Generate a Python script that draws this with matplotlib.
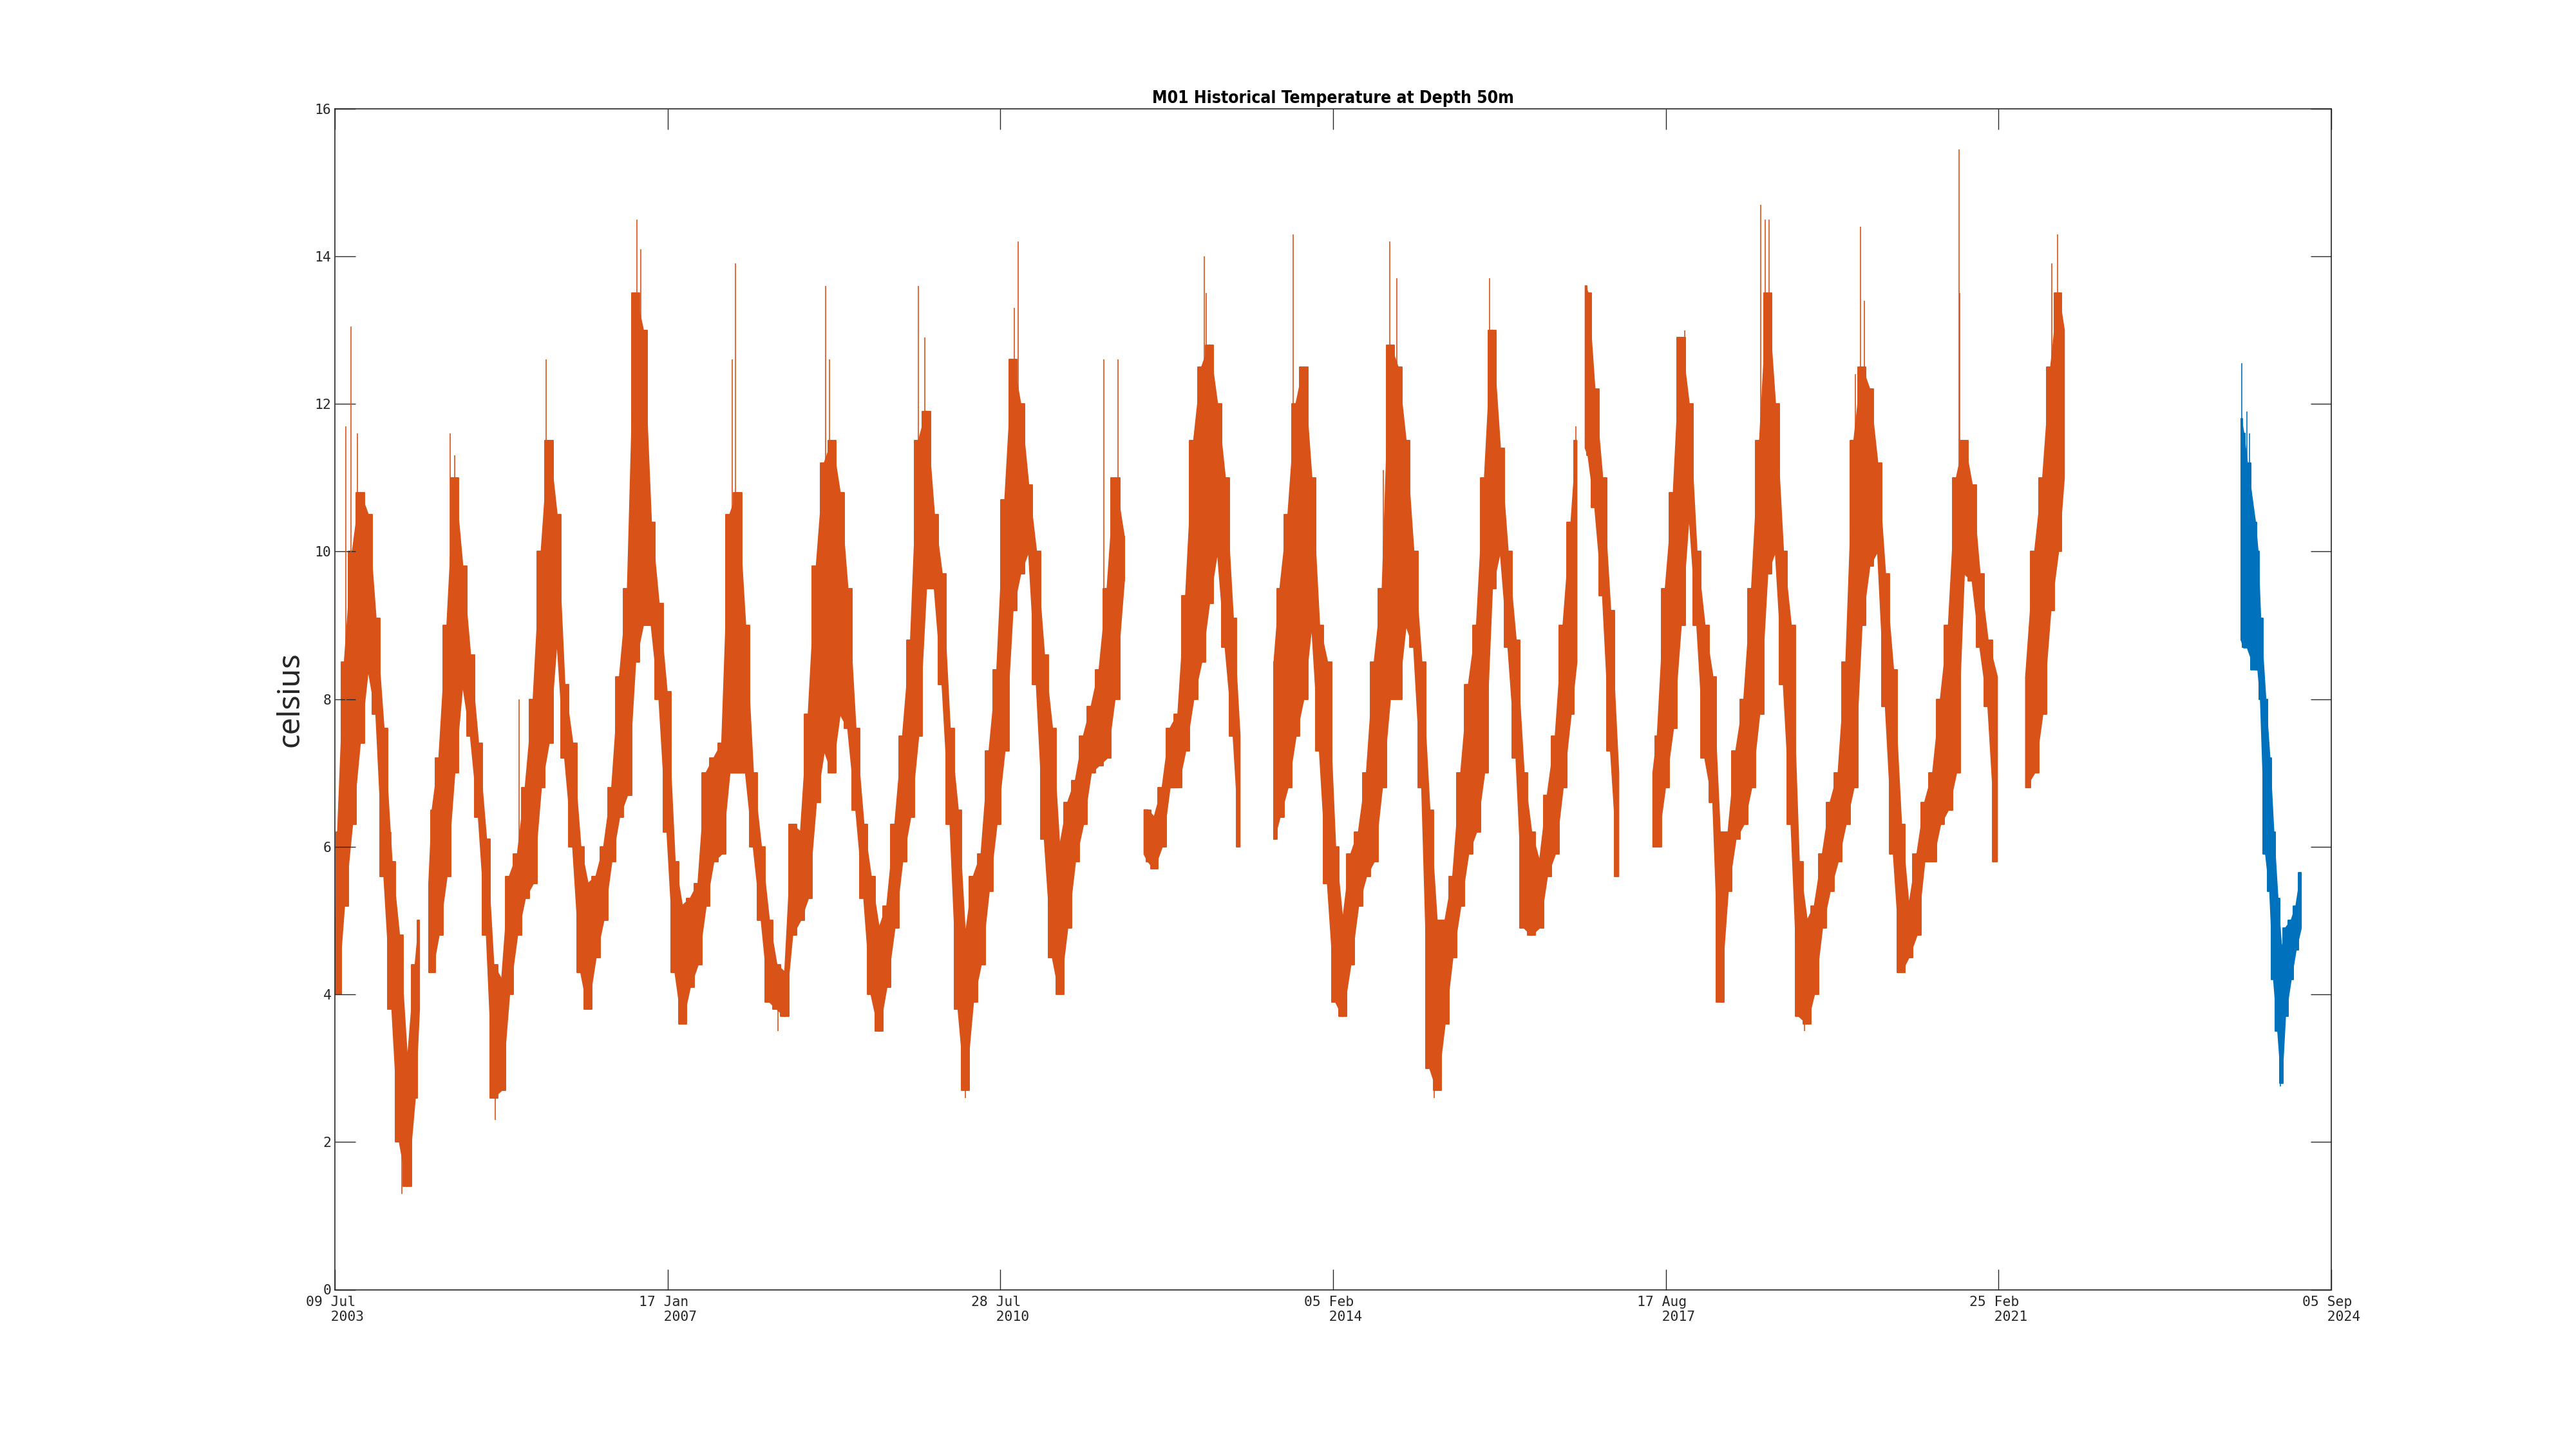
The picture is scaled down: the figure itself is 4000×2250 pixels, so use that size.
"""# Temperatura historica M01 a 50m"""
import matplotlib
matplotlib.use('Agg')
import matplotlib.pyplot as plt
import matplotlib.dates as mdates
import numpy as np
import pandas as pd

"""#### Dados lidos do grafico (envelope mensal: minimo e maximo)"""
nan = np.nan

datas_laranja = [
    '2003-07-09', '2003-07-20', '2003-08-15', '2003-09-15', '2003-10-15', '2003-11-15', '2003-12-15',
    '2004-01-15', '2004-02-15', '2004-03-15', '2004-04-15', '2004-05-15', '2004-05-31', '2004-06-15',
    '2004-07-07', '2004-07-20', '2004-08-15', '2004-09-15', '2004-10-15', '2004-11-15', '2004-12-15',
    '2005-01-15', '2005-02-15', '2005-03-15', '2005-04-15', '2005-05-15', '2005-06-15', '2005-07-15',
    '2005-08-15', '2005-09-15', '2005-10-15', '2005-11-15', '2005-12-15',
    '2006-01-15', '2006-02-15', '2006-03-15', '2006-04-15', '2006-05-15', '2006-06-15', '2006-07-15',
    '2006-08-15', '2006-09-15', '2006-10-15', '2006-11-15', '2006-12-15',
    '2007-01-15', '2007-02-15', '2007-03-15', '2007-04-15', '2007-05-15', '2007-06-15', '2007-07-15',
    '2007-08-15', '2007-09-15', '2007-10-15', '2007-11-15', '2007-12-15',
    '2008-01-15', '2008-02-15', '2008-03-15', '2008-04-15', '2008-05-15', '2008-06-15', '2008-07-15',
    '2008-08-15', '2008-09-15', '2008-10-15', '2008-11-15', '2008-12-15',
    '2009-01-15', '2009-02-15', '2009-03-15', '2009-04-15', '2009-05-15', '2009-06-15', '2009-07-15',
    '2009-08-15', '2009-09-15', '2009-10-15', '2009-11-15', '2009-12-15',
    '2010-01-15', '2010-02-15', '2010-03-15', '2010-04-15', '2010-05-15', '2010-06-15', '2010-07-15',
    '2010-08-15', '2010-09-15', '2010-10-15', '2010-11-15', '2010-12-15',
    '2011-01-15', '2011-02-15', '2011-03-15', '2011-04-15', '2011-05-15', '2011-06-15', '2011-07-15',
    '2011-08-15', '2011-09-15', '2011-10-15', '2011-11-20', '2011-12-25',
    '2012-02-05', '2012-02-20', '2012-03-15', '2012-04-15', '2012-05-15', '2012-06-15', '2012-07-15',
    '2012-08-15', '2012-09-15', '2012-10-15', '2012-11-15', '2012-12-15',
    '2013-01-15', '2013-02-10', '2013-04-15',
    '2013-06-22', '2013-07-15', '2013-08-15', '2013-09-15', '2013-10-15', '2013-11-15', '2013-12-15',
    '2014-01-15', '2014-02-15', '2014-03-15', '2014-04-15', '2014-05-15', '2014-06-15', '2014-07-15',
    '2014-08-15', '2014-09-15', '2014-10-15', '2014-11-15', '2014-12-15',
    '2015-01-15', '2015-02-15', '2015-03-15', '2015-04-15', '2015-05-15', '2015-06-15', '2015-07-15',
    '2015-08-15', '2015-09-15', '2015-10-15', '2015-11-15', '2015-12-15',
    '2016-01-15', '2016-02-15', '2016-03-15', '2016-04-15', '2016-05-15', '2016-06-15', '2016-07-15',
    '2016-08-15', '2016-09-06', '2016-09-22',
    '2016-10-09', '2016-10-20', '2016-11-15', '2016-12-15', '2017-01-15', '2017-02-15', '2017-04-15',
    '2017-06-28', '2017-07-15', '2017-08-15', '2017-09-15', '2017-10-15', '2017-11-15', '2017-12-15',
    '2018-01-15', '2018-02-15', '2018-03-15', '2018-04-15', '2018-05-15', '2018-06-15', '2018-07-15',
    '2018-08-15', '2018-09-15', '2018-10-15', '2018-11-15', '2018-12-15',
    '2019-01-15', '2019-02-15', '2019-03-15', '2019-04-15', '2019-05-15', '2019-06-15', '2019-07-15',
    '2019-08-15', '2019-09-15', '2019-10-15', '2019-11-15', '2019-12-15',
    '2020-01-15', '2020-02-15', '2020-03-15', '2020-04-15', '2020-05-15', '2020-06-15', '2020-07-15',
    '2020-08-15', '2020-09-15', '2020-10-15', '2020-11-15', '2020-12-15',
    '2021-01-15', '2021-02-20', '2021-04-15',
    '2021-06-10', '2021-07-15', '2021-08-15', '2021-09-15', '2021-10-15', '2021-11-06',
]
min_laranja = [
    4.0, 4.0, 5.2, 6.3, 7.4, 8.4, 7.8,
    5.6, 3.8, 2.0, 1.4, 2.6, 3.8, nan,
    4.3, 4.3, 4.8, 5.6, 7.0, 8.2, 7.5,
    6.4, 4.8, 2.6, 2.7, 4.0, 4.8, 5.3,
    5.5, 6.8, 7.4, 8.8, 7.2,
    6.0, 4.3, 3.8, 4.5, 5.0, 5.8, 6.4,
    6.7, 8.5, 9.0, 9.0, 8.0,
    6.2, 4.3, 3.6, 4.1, 4.4, 5.2, 5.8,
    5.9, 7.0, 7.0, 7.0, 6.0,
    5.0, 3.9, 3.8, 3.7, 4.8, 5.0, 5.3,
    6.6, 7.3, 7.0, 7.8, 7.6,
    6.5, 5.3, 4.0, 3.5, 4.1, 4.9, 5.8,
    6.4, 7.5, 9.5, 9.5, 8.2,
    6.3, 3.8, 2.7, 3.9, 4.4, 5.4, 6.3,
    7.3, 9.2, 9.7, 10.0, 8.2,
    6.1, 4.5, 4.0, 4.9, 5.8, 6.3, 7.0,
    7.1, 7.2, 8.0, 9.6, nan,
    5.9, 5.8, 5.7, 6.0, 6.8, 6.8, 7.3,
    8.0, 8.5, 9.3, 10.0, 8.7,
    7.5, 6.0, nan,
    6.1, 6.4, 6.8, 7.5, 8.0, 9.0, 7.3,
    5.5, 3.9, 3.7, 4.4, 5.2, 5.6, 5.8,
    6.8, 8.0, 8.0, 9.0, 8.7,
    6.8, 3.0, 2.7, 3.6, 4.5, 5.2, 5.9,
    6.2, 7.0, 9.5, 10.0, 8.7,
    7.2, 4.9, 4.8, 4.9, 5.6, 5.9, 6.8,
    7.8, 8.5, nan,
    11.4, 11.3, 10.6, 9.4, 7.3, 5.6, nan,
    6.0, 6.0, 6.8, 7.6, 9.0, 10.5, 9.0,
    7.2, 6.6, 3.9, 5.4, 6.1, 6.3, 6.8,
    7.8, 9.7, 10.0, 8.2, 6.3,
    3.7, 3.6, 4.0, 4.9, 5.4, 5.8, 6.3,
    6.8, 9.0, 9.8, 10.0, 7.9,
    5.9, 4.3, 4.5, 4.8, 5.8, 5.8, 6.3,
    6.5, 7.0, 9.7, 9.6, 8.7,
    7.9, 5.8, nan,
    6.8, 7.0, 7.8, 9.2, 10.0, 11.0,
]
max_laranja = [
    4.6, 6.2, 8.5, 10.0, 10.8, 10.5, 9.1,
    7.6, 5.8, 4.8, 3.1, 4.4, 5.0, nan,
    5.5, 6.5, 7.2, 9.0, 11.0, 9.8, 8.6,
    7.4, 6.1, 4.4, 4.2, 5.6, 5.9, 6.8,
    8.0, 10.0, 11.5, 10.5, 8.2,
    7.4, 6.0, 5.5, 5.6, 6.0, 6.8, 8.3,
    9.5, 13.5, 13.0, 10.4, 9.3,
    8.1, 5.8, 5.2, 5.3, 5.5, 7.0, 7.2,
    7.4, 10.5, 10.8, 9.0, 7.0,
    6.0, 5.0, 4.4, 4.3, 6.3, 6.2, 7.8,
    9.8, 11.2, 11.5, 10.8, 9.5,
    7.6, 6.3, 5.6, 4.9, 5.2, 6.3, 7.5,
    8.8, 11.5, 11.9, 10.5, 9.7,
    7.6, 6.5, 4.8, 5.6, 5.9, 7.3, 8.4,
    10.7, 12.6, 12.0, 10.9, 10.0,
    8.6, 7.6, 6.0, 6.6, 6.9, 7.5, 7.9,
    8.4, 9.5, 11.0, 10.2, nan,
    6.5, 6.5, 6.4, 6.8, 7.6, 7.8, 9.4,
    11.5, 12.5, 12.8, 12.0, 11.0,
    9.1, 7.5, nan,
    8.5, 9.5, 10.5, 12.0, 12.5, 11.0, 9.0,
    8.5, 6.0, 5.0, 5.9, 6.2, 7.0, 8.5,
    9.5, 12.8, 12.5, 11.5, 10.0,
    8.5, 6.5, 5.0, 5.0, 5.6, 7.0, 8.2,
    9.0, 11.0, 13.0, 11.4, 10.0,
    8.8, 7.0, 6.2, 5.8, 6.7, 7.5, 9.0,
    10.4, 11.5, nan,
    13.6, 13.5, 12.2, 11.0, 9.2, 7.0, nan,
    7.0, 7.5, 9.5, 10.8, 12.9, 12.0, 10.0,
    9.0, 8.3, 6.2, 6.2, 7.3, 8.0, 9.5,
    11.5, 13.5, 12.0, 10.0, 9.0,
    5.8, 5.0, 5.2, 5.9, 6.6, 7.0, 8.5,
    11.5, 12.5, 12.2, 11.2, 9.7,
    8.4, 6.3, 5.2, 5.9, 6.6, 7.0, 8.0,
    9.0, 11.0, 11.5, 10.9, 9.7,
    8.8, 8.3, nan,
    8.3, 10.0, 11.0, 12.5, 13.5, 13.0,
]

datas_azul = [
    '2023-09-22', '2023-10-01', '2023-10-15', '2023-11-15', '2023-11-25', '2023-12-05', '2023-12-25',
    '2024-01-10', '2024-01-25', '2024-02-10', '2024-02-25', '2024-03-10', '2024-04-01', '2024-04-20',
    '2024-05-10',
]
min_azul = [8.8, 8.7, 8.7, 8.4, 8.4, 8.0, 5.9, 5.4, 4.2, 3.5, 2.8, 3.7, 4.2, 4.6, 4.9]
max_azul = [11.8, 11.6, 11.2, 10.4, 10.0, 9.1, 8.0, 7.2, 6.2, 5.3, 4.6, 4.9, 5.0, 5.2, 5.65]

"""# Picos isolados (data, topo, base)"""
picos_laranja_datas = [
    '2003-08-20', '2003-09-09', '2003-10-05', '2004-02-10', '2004-09-28', '2004-10-15', '2005-06-21',
    '2005-10-05', '2006-09-20', '2006-10-05', '2007-09-25', '2007-10-08', '2008-09-20', '2008-10-05',
    '2009-09-15', '2009-10-10', '2010-09-21', '2010-10-05', '2011-09-02', '2011-10-27', '2012-09-25',
    '2012-10-02', '2013-09-05', '2014-08-20', '2014-09-13', '2014-10-10', '2015-10-04', '2016-09-02',
    '2017-10-29', '2018-08-19', '2018-09-05', '2018-09-20', '2019-08-20', '2019-09-09', '2019-09-25',
    '2020-09-24', '2020-09-28', '2021-09-20', '2021-10-11',
    '2004-03-25', '2005-03-20', '2008-03-20', '2010-03-14', '2015-03-05', '2019-02-05', '2014-03-10',
]
picos_laranja_topo = [
    11.7, 13.05, 11.6, 6.2, 11.6, 11.3, 8.0,
    12.6, 14.5, 14.1, 12.6, 13.9, 13.6, 12.6,
    13.6, 12.9, 13.3, 14.2, 12.6, 12.6, 14.0,
    13.5, 14.3, 11.1, 14.2, 13.7, 13.7, 11.7,
    13.0, 14.7, 14.5, 14.5, 12.4, 14.4, 13.4,
    15.45, 13.5, 13.9, 14.3,
    3.0, 3.5, 4.2, 4.0, 4.5, 4.5, 4.5,
]
picos_laranja_base = [
    7.0, 9.0, 9.0, 4.0, 8.5, 9.0, 5.5,
    9.0, 10.0, 10.0, 9.0, 9.0, 10.0, 9.0,
    10.0, 10.0, 10.0, 10.0, 8.0, 9.0, 10.0,
    10.0, 9.0, 7.0, 10.0, 10.0, 10.0, 9.0,
    10.0, 9.0, 10.0, 10.0, 8.0, 10.0, 10.0,
    11.0, 10.0, 11.0, 11.0,
    1.3, 2.3, 3.5, 2.6, 2.6, 3.5, 3.7,
]
picos_azul_datas = ['2023-09-25', '2023-10-15', '2023-10-25', '2024-02-22']
picos_azul_topo = [12.55, 11.9, 11.6, 4.0]
picos_azul_base = [10.0, 9.5, 9.5, 2.75]

"""# Eixos"""
limites_x = ['2003-07-09', '2024-09-05']
rotulos_x = ['09 Jul\n   2003', '17 Jan\n   2007', '28 Jul\n   2010', '05 Feb\n   2014',
             '17 Aug\n   2017', '25 Feb\n   2021', '05 Sep\n   2024']
ticks_y = [0, 2, 4, 6, 8, 10, 12, 14, 16]

cor_laranja = '#D95319'
cor_azul = '#0072BD'
cor_eixo = '#262626'

"""# Figura no formato do MATLAB"""
fig = plt.figure(figsize=(20, 11.25), dpi=200)
ax = fig.add_axes([0.13, 0.11, 0.775, 0.815])


def desenha(datas, mins, maxs, cor):
    # envelope: poligono + degraus mensais para engrossar a faixa
    x = pd.to_datetime(datas)
    lo = np.array(mins, dtype=float)
    hi = np.array(maxs, dtype=float)
    ax.fill_between(x, lo, hi, color=cor, linewidth=0.7, edgecolor=cor)
    ax.fill_between(x, lo, hi, step='mid', color=cor, linewidth=0.7, edgecolor=cor)


def picos(datas, topo, base, cor):
    ax.vlines(pd.to_datetime(datas), base, topo, color=cor, linewidth=0.6)


desenha(datas_laranja, min_laranja, max_laranja, cor_laranja)
picos(picos_laranja_datas, picos_laranja_topo, picos_laranja_base, cor_laranja)
desenha(datas_azul, min_azul, max_azul, cor_azul)
picos(picos_azul_datas, picos_azul_topo, picos_azul_base, cor_azul)

"""# Limites e ticks"""
x0, x1 = mdates.date2num(pd.to_datetime(limites_x))
ax.set_xlim(x0, x1)
ax.set_ylim(0, 16)
ax.set_xticks(np.linspace(x0, x1, len(rotulos_x)))
ax.set_xticklabels(rotulos_x, family='DejaVu Sans Mono', fontsize=7.7, color=cor_eixo)
for rot in ax.get_xticklabels():
    rot.set_multialignment('left')
ax.set_yticks(ticks_y)
ax.set_yticklabels([str(v) for v in ticks_y], family='DejaVu Sans Mono', fontsize=7.7, color=cor_eixo)

ax.tick_params(direction='in', length=11.5, width=0.5, color=cor_eixo, top=True, right=True)
ax.tick_params(axis='x', pad=3.5)
ax.tick_params(axis='y', pad=2)
for lado in ax.spines.values():
    lado.set_color(cor_eixo)
    lado.set_linewidth(0.6)

"""# Titulo e label"""
ax.set_title('M01 Historical Temperature at Depth 50m', fontsize=9.5, fontweight='bold',
             family='DejaVu Sans', fontstretch='condensed', pad=3)
ax.set_ylabel('celsius', fontsize=17, family='Noto Sans', color=cor_eixo, labelpad=5)

fig.savefig('out.png', dpi=200, facecolor='white')
